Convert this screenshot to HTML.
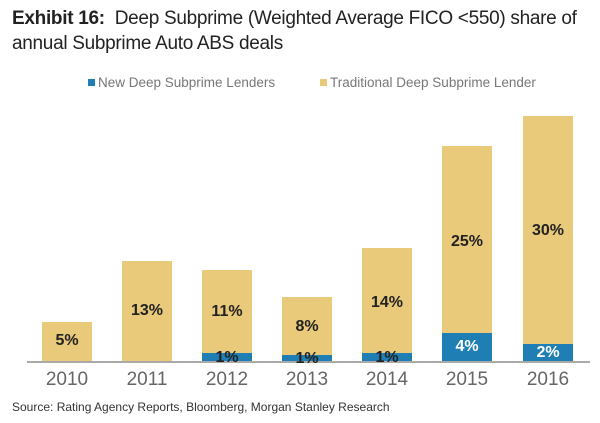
<!DOCTYPE html>
<html><head><style>
body{margin:0;width:600px;height:423px;background:#fff;font-family:"Liberation Sans",sans-serif;position:relative;overflow:hidden}
.t{position:absolute;left:12px;top:6px;font-size:19px;line-height:25px;color:#222;letter-spacing:-0.3px}
.leg{position:absolute;top:75px;font-size:13.5px;color:#777}
.sq{display:inline-block;width:7px;height:7px;margin-right:3px;vertical-align:1px}
.bar{position:absolute;width:50px;background:#E9C97A}
.blue{position:absolute;width:50px;background:#1F7FB5}
.lab{position:absolute;width:50px;text-align:center;font-size:16px;font-weight:bold;color:#222}
.yr{position:absolute;width:80px;text-align:center;font-size:19px;color:#666;top:369px}
.src{position:absolute;left:12px;top:400px;font-size:12px;color:#333}
</style></head><body>
<div class="t"><b>Exhibit 16:</b>&nbsp; Deep Subprime (Weighted Average FICO &lt;550) share of<br>annual Subprime Auto ABS deals</div>
<div class="leg" style="left:88px"><span class="sq" style="background:#1F7FB5"></span>New Deep Subprime Lenders</div>
<div class="leg" style="left:320px"><span class="sq" style="background:#E9C97A"></span>Traditional Deep Subprime Lender</div>

<div class="bar" style="left:42px;top:322px;height:39px"></div>
<div class="bar" style="left:122px;top:261px;height:100px"></div>
<div class="bar" style="left:202px;top:270px;height:91px"></div>
<div class="bar" style="left:282px;top:297px;height:64px"></div>
<div class="bar" style="left:362px;top:248px;height:113px"></div>
<div class="bar" style="left:442px;top:146px;height:215px"></div>
<div class="bar" style="left:523px;top:116px;height:245px"></div>

<div class="blue" style="left:202px;top:353px;height:8px"></div>
<div class="blue" style="left:282px;top:355px;height:6px"></div>
<div class="blue" style="left:362px;top:353px;height:8px"></div>
<div class="blue" style="left:442px;top:333px;height:28px"></div>
<div class="blue" style="left:523px;top:344px;height:17px"></div>

<div style="position:absolute;left:27px;top:361px;width:563px;height:2px;background:#aaa"></div>

<div class="lab" style="left:42px;top:332px">5%</div>
<div class="lab" style="left:122px;top:302px">13%</div>
<div class="lab" style="left:202px;top:303px">11%</div>
<div class="lab" style="left:282px;top:318px">8%</div>
<div class="lab" style="left:362px;top:294px">14%</div>
<div class="lab" style="left:442px;top:233px">25%</div>
<div class="lab" style="left:523px;top:222px">30%</div>
<div class="lab" style="left:202px;top:349px">1%</div>
<div class="lab" style="left:282px;top:350px">1%</div>
<div class="lab" style="left:362px;top:349px">1%</div>
<div class="lab" style="left:442px;top:338px;color:#fff">4%</div>
<div class="lab" style="left:523px;top:344px;color:#fff">2%</div>

<div class="yr" style="left:27px">2010</div>
<div class="yr" style="left:107px">2011</div>
<div class="yr" style="left:187px">2012</div>
<div class="yr" style="left:267px">2013</div>
<div class="yr" style="left:347px">2014</div>
<div class="yr" style="left:427px">2015</div>
<div class="yr" style="left:508px">2016</div>
<div class="src">Source: Rating Agency Reports, Bloomberg, Morgan Stanley Research</div>
</body></html>
